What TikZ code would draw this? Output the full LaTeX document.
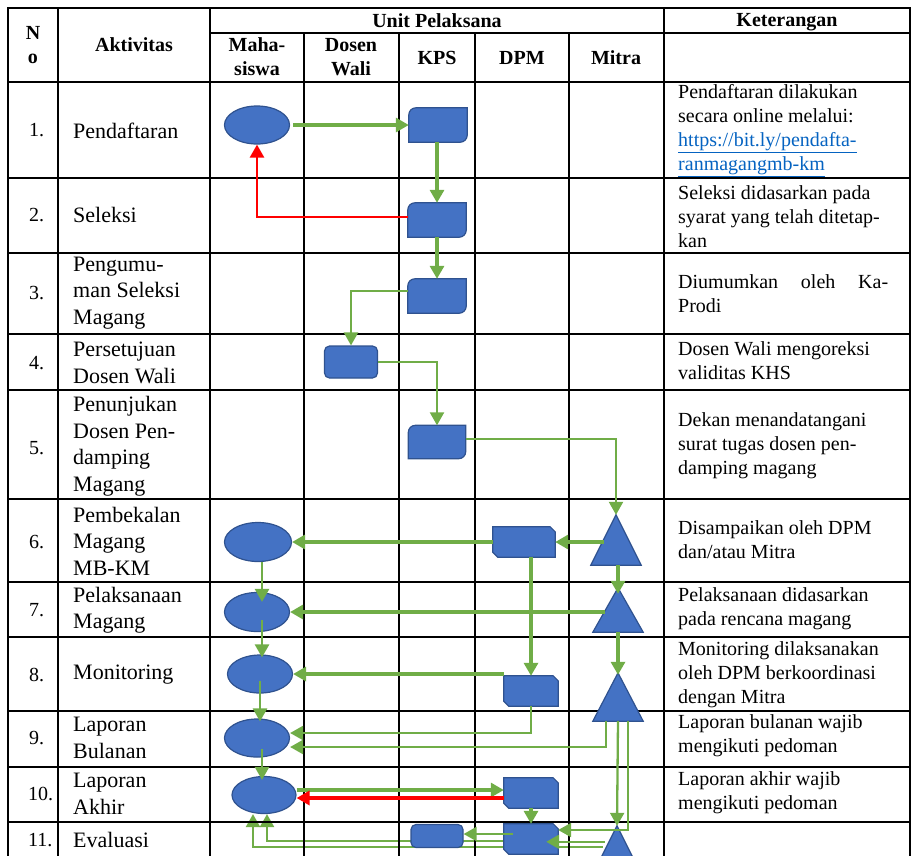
\documentclass[tikz,border=0pt]{standalone}
\usepackage{fontspec}
\setmainfont{Liberation Serif}
\usetikzlibrary{arrows.meta,backgrounds}
\definecolor{boxblue}{RGB}{68,114,196}
\definecolor{boxedge}{RGB}{47,82,143}
\definecolor{flowgreen}{RGB}{112,173,71}
\definecolor{linkblue}{RGB}{5,99,193}
% KPS box: top left and bottom right corners rounded
\newcommand{\kpsshape}[1]{%
  \filldraw[fill=boxblue,draw=boxedge,line width=1.2pt]
    ([yshift=-7pt]#1.north west) arc[start angle=180,end angle=90,radius=7pt]
    -- (#1.north east) -- ([yshift=7pt]#1.south east)
    arc[start angle=0,end angle=-90,radius=7pt] -- (#1.south west) -- cycle;}
% DPM box: top right and bottom left corners cut
\newcommand{\dpmshape}[1]{%
  \filldraw[fill=boxblue,draw=boxedge,line width=1.2pt]
    (#1.north west) -- ([xshift=-5pt]#1.north east) -- ([yshift=-5pt]#1.north east)
    -- (#1.south east) -- ([xshift=5pt]#1.south west) -- ([yshift=5pt]#1.south west) -- cycle;}
% Mitra triangle
\newcommand{\mitrashape}[1]{%
  \filldraw[fill=boxblue,draw=boxedge,line width=1.2pt]
    (#1.north) -- (#1.south east) -- (#1.south west) -- cycle;}
\usetikzlibrary{shapes.geometric}
\begin{document}
\begin{tikzpicture}
[x=1pt,y=1pt,
grid/.style={line width=1.4pt,line cap=rect},
akt/.style={anchor=west,align=left,inner sep=0,font=\fontsize{22}{26.5}\selectfont},
ket/.style={anchor=west,align=left,inner sep=0,font=\fontsize{20}{24}\selectfont},
nomor/.style={anchor=west,inner sep=0,font=\fontsize{20}{24}\selectfont},
head/.style={align=center,inner sep=0,font=\bfseries\fontsize{20}{24}\selectfont},
mhs/.style={ellipse,fill=boxblue,draw=boxedge,line width=1.2pt,inner sep=0,minimum width=65pt,minimum height=38pt},
kps/.style={inner sep=0,minimum width=58pt,minimum height=34pt},
mitra/.style={inner sep=0,minimum width=50pt,minimum height=48pt},
dpm/.style={inner sep=0,minimum width=54pt,minimum height=30pt},
dosen/.style={rectangle,rounded corners=5pt,fill=boxblue,draw=boxedge,line width=1.2pt,inner sep=0,minimum width=53pt,minimum height=32pt},
flow/.style={draw=flowgreen,line width=3.2pt,-{Triangle[length=13pt,width=14pt]}},
thinflow/.style={flow,line width=2.3pt},
redflow/.style={draw=red,line width=2.5pt,-{Triangle[length=13pt,width=14pt]}},
redthick/.style={redflow,line width=4pt}]
\useasboundingbox (0,0) rectangle (912,-855);
\clip (0,0) rectangle (912,-855);

% table
\draw[grid] (8,-8) -- (910,-8);
\draw[grid] (210,-33) -- (910,-33);
\foreach \yy in {82,178,253,334,390,499,582,637,711,767,822}
  \draw[grid] (8,-\yy) -- (910,-\yy);
\foreach \xx in {8,58,210,664,910}
  \draw[grid] (\xx,-8) -- (\xx,-870);
\foreach \xx in {304,399,475,569}
  \draw[grid] (\xx,-33) -- (\xx,-870);

% header
\node[head] (hno) at (33,-45) {N\\o};
\node[head] (hakt) at (134,-45) {Aktivitas};
\node[head] (hunit) at (437,-21) {Unit Pelaksana};
\node[head] (hket) at (787,-22) {Keterangan};
\node[head] (hmhs) at (257,-57) {Maha-\\siswa};
\node[head] (hdw) at (351,-57) {Dosen\\Wali};
\node[head] (hkps) at (437,-58) {KPS};
\node[head] (hdpm) at (522,-58) {DPM};
\node[head] (hmit) at (616,-58) {Mitra};

% nomor
\node[nomor] (n1) at (29,-130) {1.};
\node[nomor] (n2) at (29,-215) {2.};
\node[nomor] (n3) at (29,-293) {3.};
\node[nomor] (n4) at (29,-363) {4.};
\node[nomor] (n5) at (29,-448) {5.};
\node[nomor] (n6) at (29,-542) {6.};
\node[nomor] (n7) at (29,-610) {7.};
\node[nomor] (n8) at (29,-675) {8.};
\node[nomor] (n9) at (29,-738) {9.};
\node[nomor] (n10) at (28,-794) {10.};
\node[nomor] (n11) at (28,-840) {11.};

% aktivitas
\node[akt] (a1) at (73,-131) {Pendaftaran};
\node[akt] (a2) at (73,-215) {Seleksi};
\node[akt] (a3) at (73,-293) {Pengumu-\\man Seleksi\\Magang};
\node[akt] (a4) at (73,-363) {Persetujuan\\Dosen Wali};
\node[akt] (a5) at (73,-446) {Penunjukan\\Dosen Pen-\\damping\\Magang};
\node[akt] (a6) at (73,-541) {Pembekalan\\Magang\\MB-KM};
\node[akt] (a7) at (73,-610) {Pelaksanaan\\Magang};
\node[akt] (a8) at (73,-675) {Monitoring};
\node[akt] (a9) at (73,-738) {Laporan\\Bulanan};
\node[akt] (a10) at (73,-794) {Laporan\\Akhir};
\node[akt] (a11) at (73,-840) {Evaluasi};

% keterangan
\node[ket] (k1) at (678,-131) {Pendaftaran dilakukan\\secara online melalui:\\{\color{linkblue}\underline{https://bit.ly/pendafta-}}\\{\color{linkblue}\underline{ranmagangmb-km}}};
\node[ket] (k2) at (678,-217) {Seleksi didasarkan pada\\syarat yang telah ditetap-\\kan};
\node[ket] (k3) at (678,-294) {\makebox[210pt][s]{Diumumkan oleh Ka-}\\Prodi};
\node[ket] (k4) at (678,-361) {Dosen Wali mengoreksi\\validitas KHS};
\node[ket] (k5) at (678,-446) {Dekan menandatangani\\surat tugas dosen pen-\\damping magang};
\node[ket] (k6) at (678,-540) {Disampaikan oleh DPM\\dan/atau Mitra};
\node[ket] (k7) at (678,-609) {Pelaksanaan didasarkan\\pada rencana magang};
\node[ket] (k8) at (678,-675) {Monitoring dilaksanakan\\oleh DPM berkoordinasi\\dengan Mitra};
\node[ket] (k9) at (678,-736) {Laporan bulanan wajib\\mengikuti pedoman};
\node[ket] (k10) at (678,-793) {Laporan akhir wajib\\mengikuti pedoman};

% shapes
\node[mhs] (mhs1) at (257,-125) {};
\node[kps] (kps1) at (438,-125) {};
\node[kps] (kps2) at (437,-220) {};
\node[kps] (kps3) at (437,-296) {};
\node[dosen] (dw4) at (351,-362) {};
\node[kps,minimum width=57pt,minimum height=33pt] (kps5) at (437,-442) {};
\node[mitra,minimum height=50pt] (mit6) at (616,-540) {};
\node[dpm,minimum width=62pt] (dpm6) at (524,-542) {};
\node[mhs,minimum width=67pt,minimum height=39pt] (mhs6) at (258,-542) {};
\node[mhs,minimum height=39pt] (mhs7) at (257,-612) {};
\node[mitra,minimum height=44pt] (mit7) at (618,-610) {};
\node[mhs] (mhs8) at (260,-674) {};
\node[dpm] (dpm8) at (531,-691) {};
\node[mitra] (mit8) at (618,-697) {};
\node[mhs] (mhs9) at (257,-738) {};
\node[mhs,minimum width=64pt,minimum height=37pt] (mhs10) at (264,-795) {};
\node[dpm] (dpm10) at (531,-793) {};
\node[dpm] (dpm11) at (531,-839) {};
\node[dosen,minimum width=52pt,minimum height=23pt] (kps11) at (437,-836) {};
\node[mitra,minimum height=50pt] (mit11) at (617,-851) {};
\kpsshape{kps1}
\kpsshape{kps2}
\kpsshape{kps3}
\kpsshape{kps5}
\dpmshape{dpm6}
\dpmshape{dpm8}
\dpmshape{dpm10}
\dpmshape{dpm11}
\mitrashape{mit6}
\mitrashape{mit7}
\mitrashape{mit8}
\mitrashape{mit11}

% alur
\draw[flow,shorten <=3pt] (mhs1.east) -- (kps1.west);
\draw[flow] (kps1.south -| kps2.north) -- (kps2.north);
\draw[redflow] ([yshift=3pt]kps2.west) -| (mhs1.south);
\draw[flow] (kps2.south) -- (kps3.north);
\draw[thinflow] ([yshift=5pt]kps3.west) -| (dw4.north);
\draw[thinflow] (dw4.east) -| (kps5.north);
\draw[thinflow] ([yshift=3pt]kps5.east) -| (mit6.north);
\draw[flow] ([xshift=-12pt]mit6.center |- dpm6.east) -- (dpm6.east);
\draw[flow,line width=3.6pt] (dpm6.west) -- (dpm6.west -| mhs6.east);
\draw[thinflow,line width=2.6pt] ([xshift=4pt]mhs6.south) -- ([xshift=4pt,yshift=-10pt]mhs6.south |- mhs7.north);
\draw[flow] (mit6.south -| mit7.north) -- ([yshift=-6pt]mit7.north);
\draw[flow,line width=3.6pt] ([xshift=-13pt]mit7.center |- mhs7.east) -- (mhs7.east);
\draw[flow] (dpm6.south -| dpm8.north) -- (dpm8.north);
\draw[flow] (dpm8.north west |- mhs8.east) -- (mhs8.east);
\draw[flow] (mit7.south) -- ([yshift=-2pt]mit8.north);
\draw[thinflow,line width=2.6pt] ([xshift=5pt,yshift=12pt]mhs7.south) -- ([xshift=5pt,yshift=-3pt]mhs7.south |- mhs8.north);
\draw[thinflow,line width=2.6pt] ([yshift=13pt]mhs8.south) -- ([yshift=-3pt]mhs8.south |- mhs9.north);
\draw[thinflow,line width=2.6pt] ([xshift=5pt,yshift=9pt]mhs9.south) -- ([xshift=5pt,yshift=-4pt]mhs9.south |- mhs10.north);
\draw[thinflow] (dpm8.south) |- ([yshift=5pt]mhs9.east);
\draw[thinflow] ([xshift=-12pt]mit8.south) |- ([yshift=-9pt]mhs9.east);
\draw[thinflow] (mit8.south) -- (mit11.north);
\draw[thinflow] ([xshift=10pt]mit8.south) |- ([yshift=9pt]dpm11.east);
\draw[flow] ([yshift=3pt]dpm10.west -| mhs10.east) -- ([yshift=3pt]dpm10.west);
\draw[redthick] ([yshift=-5pt]dpm10.west) -- ([yshift=-5pt]dpm10.west -| mhs10.east);
\draw[flow] (dpm10.south) -- (dpm11.north);
\draw[thinflow] ([xshift=9pt,yshift=2pt]dpm11.west |- kps11.east) -- ([yshift=2pt]kps11.east);
\draw[thinflow] ([xshift=-12pt,yshift=-16pt]mit11.north) -- ([xshift=-12pt,yshift=-16pt]mit11.north -| dpm11.east);
\begin{pgfonlayer}{background}
\draw[thinflow] ([yshift=-2pt]dpm11.west) -| ([xshift=3pt]mhs10.south);
\draw[thinflow] ([xshift=-14pt,yshift=-21pt]mit11.north) -| ([xshift=-11pt]mhs10.south);
\end{pgfonlayer}
\end{tikzpicture}
\end{document}
